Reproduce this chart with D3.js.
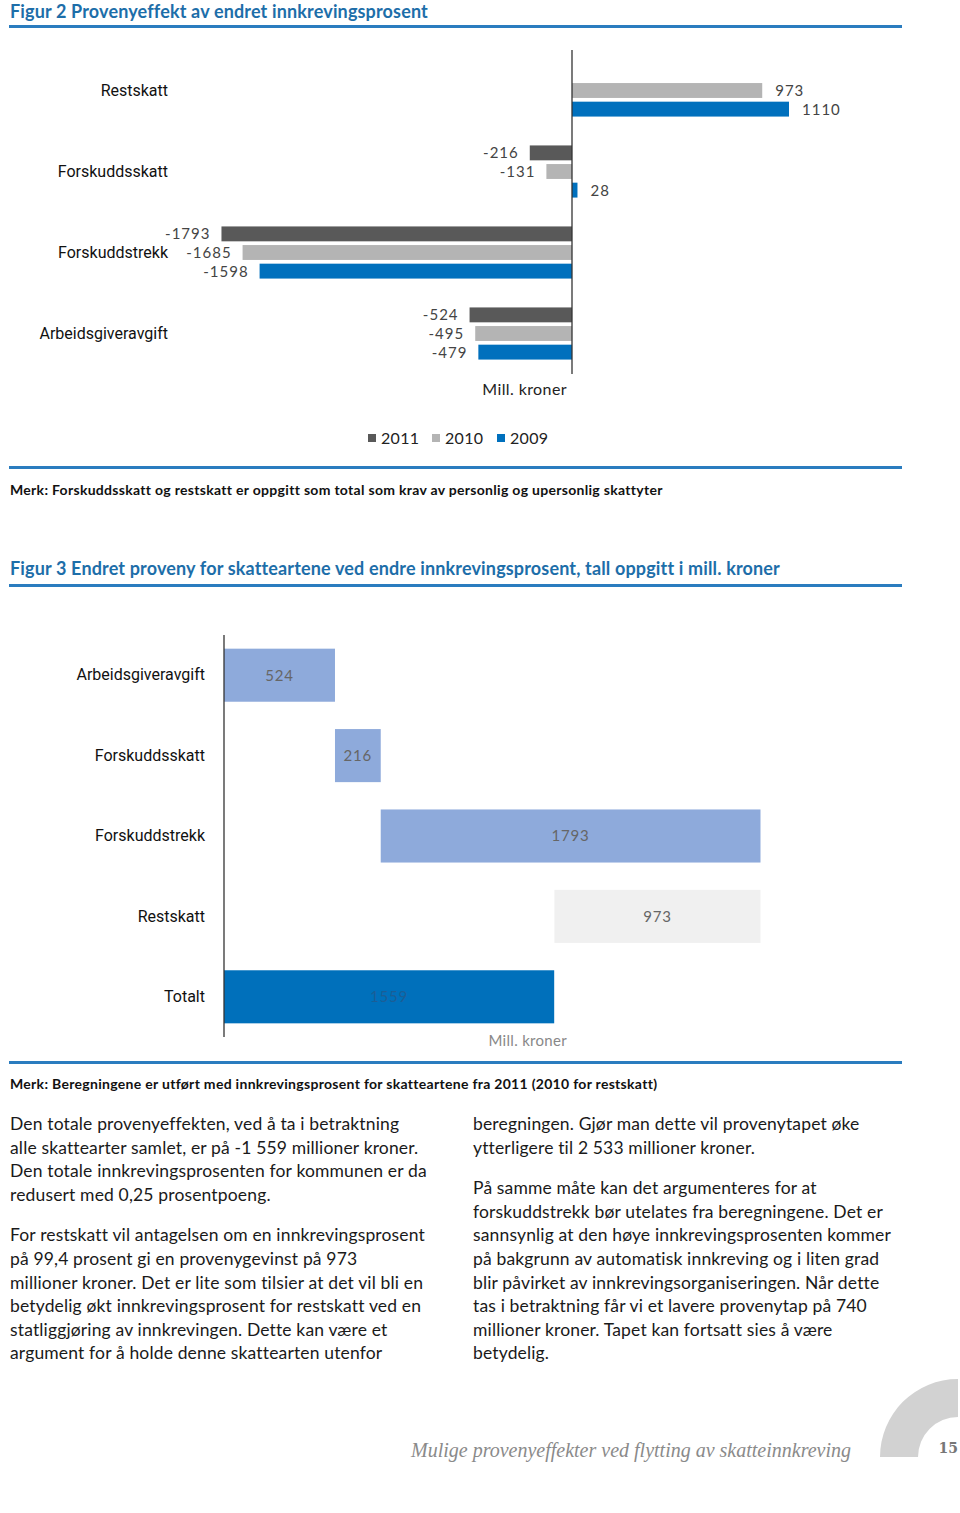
<!DOCTYPE html>
<html><head><meta charset="utf-8">
<script src="https://cdn.jsdelivr.net/npm/d3@7"></script>
<style>
html,body{margin:0;padding:0;background:#fff;}
svg{display:block;}
</style></head>
<body>
<script>
// ---------- DATA ----------
const fig2Categories = ["Restskatt","Forskuddsskatt","Forskuddstrekk","Arbeidsgiveravgift"];
const fig2Years = ["2011","2010","2009"];
const fig2Values2011 = [null,-216,-1793,-524];
const fig2Values2010 = [973,-131,-1685,-495];
const fig2Values2009 = [1110,28,-1598,-479];

const fig3Categories = ["Arbeidsgiveravgift","Forskuddsskatt","Forskuddstrekk","Restskatt","Totalt"];
const fig3Changes = [524,216,1793,-973,1559];
const fig3IsTotal = [false,false,false,false,true];

const leftColumn = [
 ["Den totale provenyeffekten, ved å ta i betraktning","alle skattearter samlet, er på -1 559 millioner kroner.","Den totale innkrevingsprosenten for kommunen er da","redusert med 0,25 prosentpoeng."],
 ["For restskatt vil antagelsen om en innkrevingsprosent","på 99,4 prosent gi en provenygevinst på 973","millioner kroner. Det er lite som tilsier at det vil bli en","betydelig økt innkrevingsprosent for restskatt ved en","statliggjøring av innkrevingen. Dette kan være et","argument for å holde denne skattearten utenfor"]
];
const rightColumn = [
 ["beregningen. Gjør man dette vil provenytapet øke","ytterligere til 2 533 millioner kroner."],
 ["På samme måte kan det argumenteres for at","forskuddstrekk bør utelates fra beregningene. Det er","sannsynlig at den høye innkrevingsprosenten kommer","på bakgrunn av automatisk innkreving og i liten grad","blir påvirket av innkrevingsorganiseringen. Når dette","tas i betraktning får vi et lavere provenytap på 740","millioner kroner. Tapet kan fortsatt sies å være","betydelig."]
];

// ---------- SETUP ----------
const W = 960, H = 1513;
const svg = d3.select("body").append("svg").attr("width", W).attr("height", H);
const blueTitle = "#1d6ea9";
const ruleColor = "#2a7cbf";
const sansFont = "Lato, 'Open Sans', sans-serif";
const narrowFont = "'Liberation Sans Narrow', 'Roboto', sans-serif";

function heading(text, y, ruleY){
  svg.append("text").attr("x", 10).attr("y", y).text(text)
    .attr("font-family", sansFont).attr("font-weight", "bold").attr("font-size", 18)
    .attr("letter-spacing", 0.15).attr("fill", blueTitle);
  svg.append("rect").attr("x", 9).attr("y", ruleY).attr("width", 893).attr("height", 3).attr("fill", ruleColor);
}
function note(text, y){
  svg.append("text").attr("x", 10).attr("y", y).text(text)
    .attr("font-family", sansFont).attr("font-weight", "bold").attr("font-size", 14)
    .attr("letter-spacing", 0.3).attr("fill", "#111");
}

// ---------- FIGURE 2 ----------
heading("Figur 2 Provenyeffekt av endret innkrevingsprosent", 17.5, 25);

const x2 = d3.scaleLinear().domain([-2000, 1500]).range([572 - 391, 572 + 293.25]);
const y2 = d3.scaleBand().domain(fig2Categories).range([50, 374]).padding(0);
const y2inner = d3.scaleBand().domain(fig2Years).range([-27, 27]).paddingInner(0.2).paddingOuter(0.05);
const col2 = d3.scaleOrdinal().domain(fig2Years).range(["#595959", "#b4b4b4", "#0070bd"]);
const seriesArr = [fig2Values2011, fig2Values2010, fig2Values2009];

const rows2 = [];
fig2Categories.forEach((c, i) => {
  fig2Years.forEach((yr, j) => {
    const v = seriesArr[j][i];
    if (v !== null) rows2.push({cat: c, year: yr, value: v});
  });
});

const g2 = svg.append("g");
g2.selectAll("rect.bar").data(rows2).join("rect").attr("class", "bar")
  .attr("x", d => x2(Math.min(0, d.value)))
  .attr("width", d => Math.abs(x2(d.value) - x2(0)))
  .attr("y", d => y2(d.cat) + y2.bandwidth() / 2 + y2inner(d.year))
  .attr("height", y2inner.bandwidth())
  .attr("fill", d => col2(d.year));

g2.selectAll("text.val").data(rows2).join("text").attr("class", "val")
  .attr("x", d => d.value < 0 ? x2(d.value) - 11 : x2(d.value) + 13)
  .attr("y", d => y2(d.cat) + y2.bandwidth() / 2 + y2inner(d.year) + y2inner.bandwidth() / 2)
  .attr("dy", "0.36em")
  .attr("text-anchor", d => d.value < 0 ? "end" : "start")
  .attr("font-family", sansFont).attr("font-size", 15).attr("letter-spacing", 1)
  .attr("fill", "#444").text(d => d.value);

// category axis
const axis2 = d3.axisLeft(y2).tickSize(0).tickPadding(0);
const ax2 = svg.append("g").attr("transform", `translate(${x2(0)},0)`).call(axis2);
ax2.select(".domain").attr("stroke", "#333").attr("stroke-width", 1.3)
  .attr("d", `M0,${y2.range()[0]}V${y2.range()[1]}`);
ax2.selectAll(".tick text").attr("x", 168 - x2(0)).attr("font-family", narrowFont)
  .attr("font-size", 16).attr("fill", "#111");

svg.append("text").attr("x", 567).attr("y", 395).attr("text-anchor", "end")
  .attr("font-family", sansFont).attr("font-size", 16).attr("letter-spacing", 0.4).attr("fill", "#222").text("Mill. kroner");

// legend
const legX = [368, 432, 497];
const leg = svg.append("g").selectAll("g").data(fig2Years).join("g")
  .attr("transform", (d, i) => `translate(${legX[i]},434)`);
leg.append("rect").attr("width", 8).attr("height", 8).attr("fill", d => col2(d));
leg.append("text").attr("x", 13).attr("y", 4).attr("dy", "0.36em")
  .attr("font-family", sansFont).attr("font-size", 16).attr("letter-spacing", 0.3).attr("fill", "#222").text(d => d);

svg.append("rect").attr("x", 9).attr("y", 466).attr("width", 893).attr("height", 3).attr("fill", ruleColor);
note("Merk: Forskuddsskatt og restskatt er oppgitt som total som krav av personlig og upersonlig skattyter", 495);

// ---------- FIGURE 3 ----------
heading("Figur 3 Endret proveny for skatteartene ved endre innkrevingsprosent, tall oppgitt i mill. kroner", 575, 584);

let run = 0;
const rows3 = fig3Categories.map((c, i) => {
  let start, end;
  if (fig3IsTotal[i]) { start = 0; end = fig3Changes[i]; }
  else { start = run; end = run + fig3Changes[i]; run = end; }
  return {cat: c, start, end, value: Math.abs(fig3Changes[i]), total: fig3IsTotal[i], neg: fig3Changes[i] < 0};
});

const x3 = d3.scaleLinear().domain([0, 2600]).range([224, 224 + 2600 * 0.2118]);
const y3 = d3.scaleBand().domain(fig3Categories).range([635, 1037]).paddingInner(0.34).paddingOuter(0.17);
const fill3 = d => d.total ? "#0070bb" : (d.neg ? "#f0f0f0" : "#8eaadb");

const g3 = svg.append("g");
g3.selectAll("rect").data(rows3).join("rect")
  .attr("x", d => x3(Math.min(d.start, d.end)))
  .attr("width", d => Math.abs(x3(d.end) - x3(d.start)))
  .attr("y", d => y3(d.cat)).attr("height", y3.bandwidth())
  .attr("fill", fill3);
g3.selectAll("text").data(rows3).join("text")
  .attr("x", d => (x3(d.start) + x3(d.end)) / 2)
  .attr("y", d => y3(d.cat) + y3.bandwidth() / 2).attr("dy", "0.36em")
  .attr("text-anchor", "middle").attr("font-family", sansFont).attr("font-size", 15)
  .attr("letter-spacing", 0.8)
  .attr("fill", d => d.total ? "#1b5e96" : "#666").text(d => d.value);

const ax3 = svg.append("g").attr("transform", `translate(${x3(0)},0)`).call(d3.axisLeft(y3).tickSize(0).tickPadding(0));
ax3.select(".domain").attr("d", `M0,635V1037`).attr("stroke", "#333").attr("stroke-width", 1.3);
ax3.selectAll(".tick text").attr("x", 205 - x3(0)).attr("font-family", narrowFont)
  .attr("font-size", 16).attr("fill", "#111");

svg.append("text").attr("x", 567).attr("y", 1046).attr("text-anchor", "end")
  .attr("font-family", sansFont).attr("font-size", 15).attr("letter-spacing", 0.3).attr("fill", "#888").text("Mill. kroner");

svg.append("rect").attr("x", 9).attr("y", 1061).attr("width", 893).attr("height", 3).attr("fill", ruleColor);
note("Merk: Beregningene er utført med innkrevingsprosent for skatteartene fra 2011 (2010 for restskatt)", 1089);

// ---------- BODY TEXT ----------
function column(paras, x, y0){
  let y = y0;
  paras.forEach((p, pi) => {
    p.forEach(line => {
      svg.append("text").attr("x", x).attr("y", y).text(line)
        .attr("font-family", sansFont).attr("font-size", 17.5).attr("letter-spacing", 0.15)
        .attr("fill", "#1a1a1a");
      y += 23.6;
    });
    y += 17;
  });
}
column(leftColumn, 10, 1130);
column(rightColumn, 473, 1130);

// ---------- FOOTER ----------
const arc = d3.arc().innerRadius(40).outerRadius(78).startAngle(-Math.PI / 2).endAngle(0);
svg.append("path").attr("d", arc()).attr("transform", "translate(958,1457)").attr("fill", "#d2d2d2");
svg.append("text").attr("x", 851).attr("y", 1457).attr("text-anchor", "end")
  .attr("font-family", "'Liberation Serif', 'DejaVu Serif', serif").attr("font-style", "italic")
  .attr("font-size", 20).attr("fill", "#8a8a8a").text("Mulige provenyeffekter ved flytting av skatteinnkreving");
svg.append("text").attr("x", 958).attr("y", 1453).attr("text-anchor", "end")
  .attr("font-family", "'DejaVu Serif', 'Liberation Serif', serif").attr("font-weight", "bold")
  .attr("font-size", 14).attr("fill", "#777").text("15");
</script>
</body></html>
